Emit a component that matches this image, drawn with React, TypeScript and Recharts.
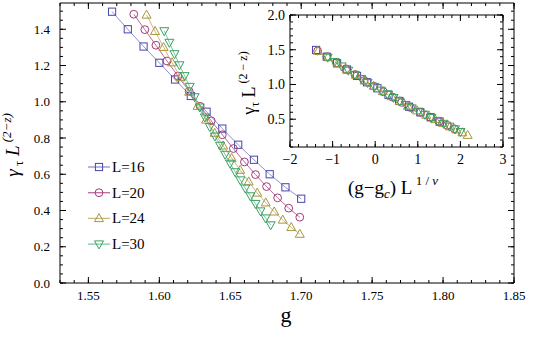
import { ScatterChart, Scatter, XAxis, YAxis, Legend, ReferenceLine } from "recharts"

// coupling g and scaled gap γτ L^(2-z), one set per system size
const g16 = [1.5667, 1.5778, 1.5889, 1.6, 1.6111, 1.6222, 1.6333, 1.6444, 1.6556, 1.6667, 1.6778, 1.6889, 1.7]
const v16 = [1.497, 1.4, 1.305, 1.215, 1.123, 1.032, 0.945, 0.852, 0.763, 0.68, 0.6, 0.528, 0.465]
const g20 = [1.582, 1.5898, 1.5976, 1.6054, 1.6132, 1.621, 1.6288, 1.6366, 1.6444, 1.6522, 1.66, 1.6678, 1.6756, 1.6834, 1.6912, 1.699]
const v20 = [1.483, 1.398, 1.312, 1.225, 1.142, 1.058, 0.975, 0.895, 0.818, 0.742, 0.668, 0.598, 0.532, 0.47, 0.413, 0.363]
const g24 = [1.591, 1.597, 1.603, 1.609, 1.615, 1.621, 1.627, 1.633, 1.639, 1.645, 1.651, 1.657, 1.663, 1.669, 1.675, 1.681, 1.687, 1.693, 1.699]
const v24 = [1.479, 1.389, 1.301, 1.216, 1.134, 1.054, 0.976, 0.9, 0.827, 0.757, 0.689, 0.623, 0.559, 0.497, 0.443, 0.393, 0.348, 0.307, 0.27]
const g30 = [1.6035, 1.6071, 1.6107, 1.6142, 1.6178, 1.6214, 1.6249, 1.6285, 1.6321, 1.6356, 1.6392, 1.6428, 1.6464, 1.6499, 1.6535, 1.6571, 1.6606, 1.6642, 1.6678, 1.6713, 1.6749, 1.6785]
const v30 = [1.391, 1.327, 1.264, 1.203, 1.143, 1.084, 1.027, 0.97, 0.915, 0.862, 0.81, 0.759, 0.709, 0.66, 0.613, 0.568, 0.523, 0.48, 0.438, 0.397, 0.358, 0.32]

// inset: scaled variable (g-gc) L^(1/ν)
const c16 = [-1.388, -1.138, -0.894, -0.663, -0.426, -0.192, 0.052, 0.313, 0.562, 0.794, 1.059, 1.302, 1.514]
const c20 = [-1.352, -1.133, -0.912, -0.688, -0.475, -0.259, -0.032, 0.192, 0.408, 0.621, 0.83, 1.066, 1.288, 1.497, 1.689, 1.857]
const c24 = [-1.341, -1.11, -0.884, -0.665, -0.454, -0.249, -0.035, 0.178, 0.383, 0.579, 0.769, 0.982, 1.197, 1.406, 1.588, 1.756, 1.908, 2.046, 2.17]
const c30 = [-1.115, -0.951, -0.789, -0.632, -0.478, -0.326, -0.178, -0.018, 0.136, 0.285, 0.43, 0.573, 0.713, 0.857, 1.015, 1.167, 1.318, 1.463, 1.605, 1.743, 1.874, 2.002]

const sizes = ["L=16", "L=20", "L=24", "L=30"]

const xTicks = [1.55, 1.6, 1.65, 1.7, 1.75, 1.8, 1.85]
const yTicks = [0, 0.2, 0.4, 0.6, 0.8, 1.0, 1.2, 1.4]
const insetXTicks = [-2, -1, 0, 1, 2, 3]
const insetYTicks = [0.5, 1.0, 1.5, 2.0]

const steps = (a: number, b: number, d: number) =>
  Array.from({ length: Math.round((b - a) / d) + 1 }, (_, i) => +(a + i * d).toFixed(4))

const xMinor = steps(1.53, 1.85, 0.01)
const yMinor = steps(0, 1.5, 0.05)
const ixMinor = steps(-2, 3, 0.2)
const iyMinor = steps(0.1, 2.0, 0.1)

const FONT = "'Liberation Serif', 'Times New Roman', serif"

const series = [
  { name: sizes[0], g: g16, v: v16, c: c16, kind: "square", color: "#4646a8", line: "#9090d4" },
  { name: sizes[1], g: g20, v: v20, c: c20, kind: "circle", color: "#a23a78", line: "#bb6a9c" },
  { name: sizes[2], g: g24, v: v24, c: c24, kind: "up", color: "#a8963c", line: "#c8b97c" },
  { name: sizes[3], g: g30, v: v30, c: c30, kind: "down", color: "#38a062", line: "#7ccaa0" },
].map((s) => ({
  ...s,
  main: s.g.map((g, i) => ({ g, v: s.v[i] })),
  inset: s.c.map((x, i) => ({ x, v: s.v[i] })),
}))

function Marker({ cx, cy, kind, color }: any) {
  if (cx == null || cy == null) return null
  const st = { fill: "none", stroke: color, strokeWidth: 1 }
  if (kind === "square") return <rect x={cx - 3.6} y={cy - 3.6} width={7.2} height={7.2} {...st} />
  if (kind === "circle") return <circle cx={cx} cy={cy} r={3.9} {...st} />
  if (kind === "up") return <polygon points={`${cx},${cy - 4.8} ${cx - 4.5},${cy + 3.2} ${cx + 4.5},${cy + 3.2}`} {...st} />
  return <polygon points={`${cx},${cy + 4.8} ${cx - 4.5},${cy - 3.2} ${cx + 4.5},${cy - 3.2}`} {...st} />
}

const hit = (list: number[], v: number) => list.some((m) => Math.abs(m - v) < 1e-6)
const fmtInset = (v: number) => (v < 0 ? `\u2212${-v}` : `${v}`)

// labels for the major ticks only; tickSize + tickMargin = 0 so p.x / p.y sit on the axis
const bottomLabel = (major: number[], fmt: any, fs: number, dy: number) => (p: any) =>
  hit(major, p.payload.value) ? (
    <text x={p.x} y={p.y + dy} textAnchor="middle" fontSize={fs} fontFamily={FONT} fill="#000">
      {fmt(p.payload.value)}
    </text>
  ) : (
    <g />
  )
const leftLabel = (major: number[], fmt: any, fs: number, gap: number) => (p: any) =>
  hit(major, p.payload.value) ? (
    <text x={p.x - gap} y={p.y + fs * 0.35} textAnchor="end" fontSize={fs} fontFamily={FONT} fill="#000">
      {fmt(p.payload.value)}
    </text>
  ) : (
    <g />
  )
const noLabel = () => <g />

// longer inward marks for the major ticks (data units worth about 6px)
function majorMarks(id: string, xMaj: number[], yMaj: number[], xDom: number[], yDom: number[], xLen: number, yLen: number) {
  const out: any[] = []
  xMaj.forEach((x) => {
    out.push(<ReferenceLine key={`${id}b${x}`} xAxisId="b" yAxisId="l" ifOverflow="visible" stroke="#000"
      segment={[{ x, y: yDom[0] }, { x, y: yDom[0] + yLen }]} />)
    out.push(<ReferenceLine key={`${id}t${x}`} xAxisId="b" yAxisId="l" ifOverflow="visible" stroke="#000"
      segment={[{ x, y: yDom[1] - yLen }, { x, y: yDom[1] }]} />)
  })
  yMaj.forEach((y) => {
    out.push(<ReferenceLine key={`${id}l${y}`} xAxisId="b" yAxisId="l" ifOverflow="visible" stroke="#000"
      segment={[{ x: xDom[0], y }, { x: xDom[0] + xLen, y }]} />)
    out.push(<ReferenceLine key={`${id}r${y}`} xAxisId="b" yAxisId="l" ifOverflow="visible" stroke="#000"
      segment={[{ x: xDom[1] - xLen, y }, { x: xDom[1], y }]} />)
  })
  return out
}

const MainYLabel = () => (
  <text transform="rotate(-90 19 145)" x={19} y={145} textAnchor="middle" fontSize={19} fontFamily={FONT} fill="#000">
    <tspan fontStyle="italic">γ</tspan>
    <tspan fontSize={13} dy={4}> τ</tspan>
    <tspan dy={-4}>  </tspan>
    <tspan fontStyle="italic">L</tspan>
    <tspan fontSize={13} dy={-8} fontStyle="italic"> (2−z)</tspan>
  </text>
)
const MainXLabel = () => (
  <text x={286} y={322} textAnchor="middle" fontSize={22} fontFamily={FONT} fill="#000">g</text>
)
const InsetYLabel = () => (
  <text transform="rotate(-90 25 83)" x={25} y={83} textAnchor="middle" fontSize={18} fontFamily={FONT} fill="#000">
    <tspan>γ</tspan>
    <tspan fontSize={12} dy={4}>τ</tspan>
    <tspan dy={-4}> L</tspan>
    <tspan fontSize={12} dy={-8}> (2 − z)</tspan>
  </text>
)
const InsetXLabel = () => (
  <text x={163} y={194} textAnchor="middle" fontSize={19} fontFamily={FONT} fill="#000">
    <tspan>(g−g</tspan>
    <tspan fontSize={13} dy={4} fontStyle="italic">c</tspan>
    <tspan dy={-4}>) L</tspan>
    <tspan fontSize={13} dy={-9}> 1 / </tspan>
    <tspan fontSize={13} fontStyle="italic">ν</tspan>
  </text>
)

const LegendBox = () => (
  <svg width={80} height={100} style={{ display: "block" }}>
    {series.map((s, i) => {
      const cy = 13 + i * 25.7
      return (
        <g key={s.name}>
          <line x1={4} x2={26} y1={cy} y2={cy} stroke={s.line} strokeWidth={1.3} />
          <Marker cx={15} cy={cy} kind={s.kind} color={s.color} />
          <text x={28} y={cy + 5} fontSize={15} fontFamily={FONT} fill="#000">{s.name}</text>
        </g>
      )
    })}
  </svg>
)

const axisLine = { stroke: "#000", strokeWidth: 1 }
const tickLine = { stroke: "#000", strokeWidth: 1 }
const nothing = () => <g />

const mainX = [1.53, 1.85]
const mainY = [0, 1.545]
const insX = [-2, 3]
const insY = [0.1, 2.0]

// built-in tick lines pointed inward (negative size), all ticks 3px
const inward = { tickSize: -3, tickMargin: 3, interval: 0 as const, tickLine, axisLine, stroke: "#000" }

export default function App() {
  return (
    <div
      style={{
        position: "absolute",
        left: 0,
        top: 0,
        width: 540,
        height: 337,
        background: "#fff",
        fontFamily: FONT,
      }}
    >
      <ScatterChart width={540} height={337} margin={{ top: 2, right: 25, bottom: 0, left: 0 }}>
        <XAxis xAxisId="b" dataKey="g" type="number" domain={mainX} allowDataOverflow ticks={xMinor} height={54}
          {...inward} tick={bottomLabel(xTicks, (v: number) => v.toFixed(2), 13, 17)} label={MainXLabel} />
        <XAxis xAxisId="t" orientation="top" dataKey="g" type="number" domain={mainX} allowDataOverflow
          ticks={xMinor} height={1} {...inward} tick={noLabel} />
        <YAxis yAxisId="l" dataKey="v" type="number" domain={mainY} allowDataOverflow ticks={yMinor} width={60}
          {...inward} tick={leftLabel(yTicks, (v: number) => v.toFixed(1), 13, 10)} label={MainYLabel} />
        <YAxis yAxisId="r" orientation="right" dataKey="v" type="number" domain={mainY} allowDataOverflow
          ticks={yMinor} width={1} {...inward} tick={noLabel} />
        {/* invisible copy so the mirrored frame axes get drawn */}
        <Scatter xAxisId="t" yAxisId="r" data={series[0].main} shape={nothing} legendType="none" isAnimationActive={false} />
        {majorMarks("m", xTicks, yTicks, mainX, mainY, 0.00423, 0.0331)}
        {series.map((s) => (
          <Scatter key={s.name} name={s.name} xAxisId="b" yAxisId="l" data={s.main}
            line={{ stroke: s.line, strokeWidth: 1 }}
            shape={(p: any) => <Marker cx={p.cx} cy={p.cy} kind={s.kind} color={s.color} />}
            isAnimationActive={false} />
        ))}
        <Legend layout="horizontal" verticalAlign="middle" align="center"
          wrapperStyle={{ left: 84, top: 154, width: 80, height: 100 }}
          content={() => <LegendBox />} />
      </ScatterChart>

      <div style={{ position: "absolute", left: 230, top: 0 }}>
        <ScatterChart width={285} height={205} margin={{ top: 14, right: 11, bottom: 0, left: 0 }}>
          <XAxis xAxisId="b" dataKey="x" type="number" domain={insX} allowDataOverflow ticks={ixMinor} height={58}
            {...inward} tick={bottomLabel(insetXTicks, fmtInset, 14, 17)} label={InsetXLabel} />
          <XAxis xAxisId="t" orientation="top" dataKey="x" type="number" domain={insX} allowDataOverflow
            ticks={ixMinor} height={1} {...inward} tick={noLabel} />
          <YAxis yAxisId="l" dataKey="v" type="number" domain={insY} allowDataOverflow ticks={iyMinor} width={60}
            {...inward} tick={leftLabel(insetYTicks, (v: number) => v.toFixed(1), 14, 5)} label={InsetYLabel} />
          <YAxis yAxisId="r" orientation="right" dataKey="v" type="number" domain={insY} allowDataOverflow
            ticks={iyMinor} width={1} {...inward} tick={noLabel} />
          <Scatter xAxisId="t" yAxisId="r" data={series[0].inset} shape={nothing} legendType="none" isAnimationActive={false} />
          {majorMarks("i", insetXTicks, insetYTicks, insX, insY, 0.141, 0.0864)}
          {series.map((s) => (
            <Scatter key={s.name} name={s.name} xAxisId="b" yAxisId="l" data={s.inset}
              shape={(p: any) => <Marker cx={p.cx} cy={p.cy} kind={s.kind} color={s.color} />}
              isAnimationActive={false} />
          ))}
        </ScatterChart>
      </div>
    </div>
  )
}
